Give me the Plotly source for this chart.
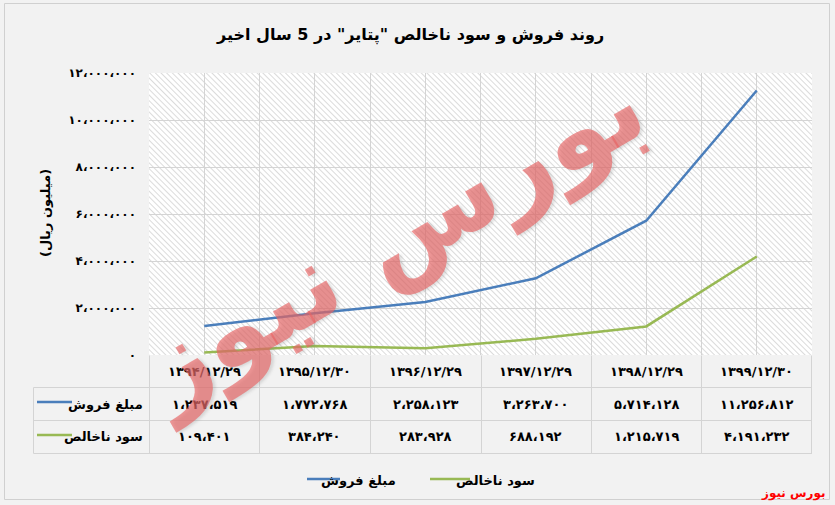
import base64
import plotly.graph_objects as go

# ---------------- data ----------------
categories = ["1394/12/29", "1395/12/30", "1396/12/29", "1397/12/29", "1398/12/29", "1399/12/30"]
sales = [1237519, 1772768, 2258123, 3263700, 5714128, 11256812]
gross_profit = [109401, 384240, 283928, 688192, 1215719, 4191232]
series_names = ["مبلغ فروش", "سود ناخالص"]
y_tick_values = [0, 2000000, 4000000, 6000000, 8000000, 10000000, 12000000]

title_text = "روند فروش و سود ناخالص \"پتایر\" در 5 سال اخیر"
y_title = "(میلیون ریال)"
brand = "بورس نیوز"

# ---------------- helpers ----------------
FA = str.maketrans("0123456789", "۰۱۲۳۴۵۶۷۸۹")


def fa_num(v):
    return f"{int(v):,}".replace(",", "،").translate(FA)


def fa_txt(s):
    return s.translate(FA)


FONT = "DejaVu Sans"
W_FIG, H_FIG = 835, 505
L, R, T, B = 149, 812, 73, 355
PW, PH = R - L, B - T


def px(x):
    return (x - L) / PW


def py(y):
    return (B - y) / PH


colors = ["#4a7ebb", "#98b954"]
grid = "#d4d4d4"

fig = go.Figure()
x_idx = list(range(len(categories)))
for name, vals, c in zip(series_names, [sales, gross_profit], colors):
    fig.add_trace(go.Scatter(x=x_idx, y=vals, mode="lines", name=name,
                             line=dict(color=c, width=2.5),
                             hoverinfo="skip", showlegend=False))

# hatch background for plot area
svg = ('<svg xmlns="http://www.w3.org/2000/svg" width="663" height="282">'
       '<defs><pattern id="h" width="4" height="4" patternUnits="userSpaceOnUse" '
       'patternTransform="rotate(-45)"><rect width="4" height="4" fill="#ffffff"/>'
       '<line x1="0" y1="0" x2="0" y2="4" stroke="#d2d2d2" stroke-width="1.6"/></pattern></defs>'
       '<rect width="100%" height="100%" fill="url(#h)"/></svg>')
img_src = "data:image/svg+xml;base64," + base64.b64encode(svg.encode()).decode()

shapes = []
annotations = []

# outer border
shapes.append(dict(type="rect", xref="paper", yref="paper",
                   x0=px(4.5), x1=px(829.5), y0=py(499.5), y1=py(3.5),
                   line=dict(color="#d0d0d0", width=1), fillcolor="rgba(0,0,0,0)", layer="below"))

# table geometry
n = len(categories)
col_w = PW / n
row_y = [B + 0.5, 387.5, 420.5, 453.5]
left_edge = 33.5
bounds = [L + round(i * col_w) + 0.5 for i in range(n + 1)]
bounds[-1] = R - 0.5

for xx in bounds:
    shapes.append(dict(type="line", xref="paper", yref="paper",
                       x0=px(xx), x1=px(xx), y0=py(row_y[0]), y1=py(row_y[3]),
                       line=dict(color=grid, width=1)))
shapes.append(dict(type="line", xref="paper", yref="paper",
                   x0=px(left_edge), x1=px(left_edge), y0=py(row_y[1]), y1=py(row_y[3]),
                   line=dict(color=grid, width=1)))
for yy in row_y[1:]:
    shapes.append(dict(type="line", xref="paper", yref="paper",
                       x0=px(left_edge), x1=px(R), y0=py(yy), y1=py(yy),
                       line=dict(color=grid, width=1)))

cell_font = dict(family=FONT, size=13, color="#000", weight="bold")
# header row
for i, cat in enumerate(categories):
    annotations.append(dict(xref="paper", yref="paper", x=px(L + (i + 0.5) * col_w),
                            y=py(371), text=fa_txt(cat), xanchor="center", yanchor="middle",
                            showarrow=False, font=cell_font))
# data rows
for r, (name, vals, c) in enumerate(zip(series_names, [sales, gross_profit], colors)):
    yc = (row_y[r + 1] + row_y[r + 2]) / 2
    for i, v in enumerate(vals):
        annotations.append(dict(xref="paper", yref="paper", x=px(L + (i + 0.5) * col_w),
                                y=py(yc), text=fa_num(v), showarrow=False,
                                xanchor="center", yanchor="middle", font=cell_font))
    shapes.append(dict(type="line", xref="paper", yref="paper",
                       x0=px(37), x1=px(72), y0=py(yc - 2), y1=py(yc - 2),
                       line=dict(color=c, width=2.5)))
    annotations.append(dict(xref="paper", yref="paper", x=px(145), y=py(yc),
                            xanchor="right", yanchor="middle", text=name, showarrow=False,
                            font=cell_font))

# bottom legend (drawn manually)
legend_items = [(307, 340, 398), (430, 470, 537)]
for (lx0, lx1, tx), name, c in zip(legend_items, series_names, colors):
    shapes.append(dict(type="line", xref="paper", yref="paper",
                       x0=px(lx0), x1=px(lx1), y0=py(479), y1=py(479),
                       line=dict(color=c, width=2.5)))
    annotations.append(dict(xref="paper", yref="paper", x=px(tx), y=py(481),
                            xanchor="right", yanchor="middle", text=name, showarrow=False,
                            font=cell_font))

# title
annotations.append(dict(xref="paper", yref="paper", x=px(410), y=py(35), text=title_text,
                        xanchor="center", yanchor="middle",
                        showarrow=False, font=dict(family=FONT, size=16, color="#000", weight="bold")))
# y axis title
annotations.append(dict(xref="paper", yref="paper", x=px(45), y=py(213), text=y_title,
                        xanchor="center", yanchor="middle",
                        textangle=-90, showarrow=False, font=cell_font))
# watermark
annotations.append(dict(xref="paper", yref="paper", x=px(390), y=py(238), text=brand,
                        xanchor="center", yanchor="middle",
                        textangle=-30, showarrow=False,
                        font=dict(family=FONT, size=106, color="rgba(232,100,100,0.66)", weight="bold",
                                  shadow="2px 2px 3px rgba(120,120,120,0.35)")))
# brand bottom right
annotations.append(dict(xref="paper", yref="paper", x=px(828), y=py(493), xanchor="right",
                        yanchor="middle", text=brand, showarrow=False,
                        font=dict(family=FONT, size=12, color="#ff0000", weight="bold")))

fig.update_layout(
    width=W_FIG, height=H_FIG,
    margin=dict(l=L, r=W_FIG - R, t=T, b=H_FIG - B, pad=0, autoexpand=False),
    paper_bgcolor="#f2f2f2", plot_bgcolor="rgba(0,0,0,0)",
    font=dict(family=FONT, color="#000"),
    showlegend=False,
    xaxis=dict(range=[-0.5, n - 0.5], dtick=0.5, tick0=-0.5, showticklabels=False,
               showgrid=True, gridcolor=grid, gridwidth=1, zeroline=False, fixedrange=True,
               showline=False),
    yaxis=dict(range=[0, 12000000], tickvals=y_tick_values,
               ticktext=[fa_num(v) for v in y_tick_values],
               showgrid=True, gridcolor=grid, gridwidth=1, zeroline=False,
               tickfont=dict(family=FONT, size=12, color="#000", weight="bold"),
               ticks="", ticklabelstandoff=12, showline=False),
    images=[dict(source=img_src, xref="paper", yref="paper", x=0, y=1, sizex=1, sizey=1,
                 xanchor="left", yanchor="top", sizing="stretch", layer="below")],
    shapes=shapes,
    annotations=annotations,
)

fig.write_html("out.html", config={"displayModeBar": False},
               post_script="document.body.style.margin='0';")
